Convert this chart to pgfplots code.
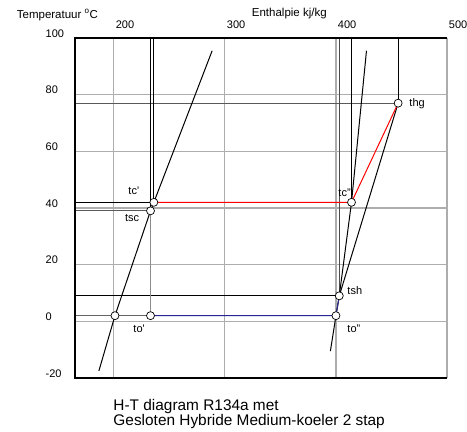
\documentclass[border=0pt]{standalone}
\usepackage{fontspec}
\setmainfont{Liberation Sans}
\usepackage{pgfplots}
\pgfplotsset{compat=1.18}

\definecolor{gridgray}{gray}{0.68}
\definecolor{lijnblauw}{rgb}{0.15,0.15,0.58}

\begin{document}
\begin{tikzpicture}
\useasboundingbox (-75pt,-54pt) rectangle (392pt,378pt);
\begin{axis}[
  scale only axis, width=372pt, height=340pt,
  xmin=165, xmax=500, ymin=-20, ymax=100,
  xtick={200,300,400,500}, xticklabels={200,300,400,500},
  ytick={-20,0,20,40,60,80,100}, yticklabels={-20,0,20,40,60,80,100},
  xticklabel pos=upper,
  major tick length=0pt,
  grid=major, major grid style={gridgray, line width=1.1pt},
  axis line style={draw=none},
  tick label style={font=\fontsize{11}{13}\selectfont, inner sep=0pt},
  xticklabel style={anchor=base west, xshift=1.8pt, yshift=9.7pt},
  yticklabel style={anchor=base west, xshift=-29.5pt, yshift=1pt},
  clip=false,
]
% hulplijnen naar de assen
\addplot[black!65, line width=0.9pt] coordinates {(165,77) (456,77)};
\addplot[black, line width=0.8pt] coordinates {(165,42) (236,42)};
\addplot[black!65, line width=0.8pt] coordinates {(165,39) (233,39)};
\addplot[black, line width=0.8pt] coordinates {(165,9) (403,9)};
\addplot[black!60, line width=0.9pt] coordinates {(165,2) (233,2)};
\addplot[black, line width=0.8pt] coordinates {(233,39) (233,100)};
\addplot[black!45, line width=0.9pt] coordinates {(233,2) (233,39)};
\addplot[black, line width=0.8pt] coordinates {(236,42) (236,100)};
\addplot[black!70, line width=0.8pt] coordinates {(403,9) (403,100)};
\addplot[black, line width=0.8pt] coordinates {(414,42) (414,100)};
\addplot[black, line width=0.8pt] coordinates {(456,77) (456,100)};

% verzadigingslijnen
\addplot[black, line width=1pt] coordinates {(186.5,-17.5) (201,2) (233,39) (236,42) (288.5,95.5)};
\addplot[black, line width=1pt] coordinates {(395,-10.5) (400,2) (403,9) (414,42) (427.5,95.5)};

% kringproces
\addplot[black, line width=1pt] coordinates {(403,9) (456,77)};
\addplot[red, line width=1pt] coordinates {(236,42) (414,42) (456,77)};
\addplot[lijnblauw, line width=1pt] coordinates {(233,2) (400,2) (403,9)};

\addplot[black, only marks, mark=*, mark size=4pt, mark options={fill=white, line width=0.7pt}]
  coordinates {(201,2) (233,2) (233,39) (236,42) (414,42) (456,77) (403,9) (400,2)};

% kader
\draw[black, line width=1.2pt] (rel axis cs:1,0) -- (rel axis cs:0,0) -- (rel axis cs:0,1) -- (rel axis cs:1,1);

\begin{scope}[every node/.style={anchor=base west, inner sep=0pt, font=\fontsize{11}{13}\selectfont}]
\node at (axis cs:213,44.6) {tc\textquotesingle};
\node at (axis cs:210,35.2) {tsc};
\node at (axis cs:217.5,-4.1) {to\textquotesingle};
\node at (axis cs:402.1,44) {tc"};
\node at (axis cs:410.2,9.6) {tsh};
\node at (axis cs:410.2,-3.9) {to"};
\node at (axis cs:466,75.8) {thg};
\end{scope}

\node[anchor=base west, inner sep=0pt, font=\fontsize{11.5}{14}\selectfont, xshift=-58.3pt, yshift=19.7pt] at (rel axis cs:0,1) {Temperatuur \textsuperscript{o}C};
\node[anchor=base west, inner sep=0pt, font=\fontsize{11.5}{14}\selectfont, xshift=176.7pt, yshift=21.3pt] at (rel axis cs:0,1) {Enthalpie kj/kg};
\node[anchor=base west, inner sep=0pt, font=\fontsize{15.4}{15}\selectfont, xshift=38.3pt, yshift=-32pt] at (rel axis cs:0,0) {H-T diagram R134a met};
\node[anchor=base west, inner sep=0pt, font=\fontsize{15.4}{15}\selectfont, xshift=38.3pt, yshift=-47pt] at (rel axis cs:0,0) {Gesloten Hybride Medium-koeler 2 stap};
\end{axis}
\end{tikzpicture}
\end{document}
